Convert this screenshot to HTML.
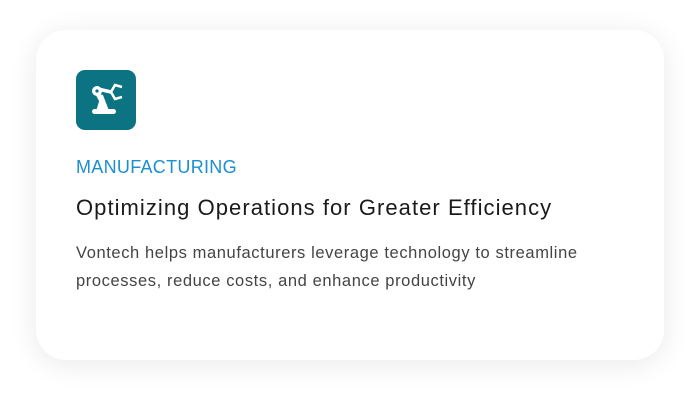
<!DOCTYPE html>
<html><head><style>
body{margin:0;width:700px;height:402px;background:#fff;font-family:"Liberation Sans",sans-serif;position:relative;overflow:hidden}
.card{position:absolute;left:36px;top:30px;width:628px;height:330px;background:#fff;border-radius:30px;box-shadow:0 4px 28px rgba(0,0,0,0.09)}
.icon{position:absolute;left:76px;top:70px;width:60px;height:60px;background:#0b7381;border-radius:9px}
.cat{position:absolute;left:76px;top:157px;font-size:18px;color:#1b8fd0;letter-spacing:0.3px}
.title{position:absolute;left:76px;top:195px;font-size:22px;color:#1a1a1a;letter-spacing:1.05px;white-space:nowrap}
.body{position:absolute;left:76px;top:239px;font-size:16.5px;line-height:28px;color:#444;width:530px;letter-spacing:0.6px}
</style></head><body>
<div class="card"></div>
<div class="icon"><svg width="60" height="60" viewBox="0 0 60 60">
<g fill="#fff" stroke="#fff">
<rect x="16" y="39" width="24" height="5" rx="2.5" stroke="none"/>
<path d="M22 39 L26 26 L31 39Z" stroke-width="2.5" stroke-linejoin="round"/>
<circle cx="21" cy="21" r="5" stroke="none"/>
<path d="M21 22 L27 33" stroke-width="5" stroke-linecap="round" fill="none"/>
<path d="M22 19 L35 22" stroke-width="3.5" fill="none"/>
<path d="M35 22 L39 15 L46 17" stroke-width="2.5" fill="none"/>
<path d="M35 22 L39 29 L46 27" stroke-width="2.5" fill="none"/>
</g><circle cx="21" cy="21" r="1.6" fill="#0b7381"/></svg></div>
<div class="cat">MANUFACTURING</div>
<div class="title">Optimizing Operations for Greater Efficiency</div>
<div class="body">Vontech helps manufacturers leverage technology to streamline processes, reduce costs, and enhance productivity</div>
</body></html>
